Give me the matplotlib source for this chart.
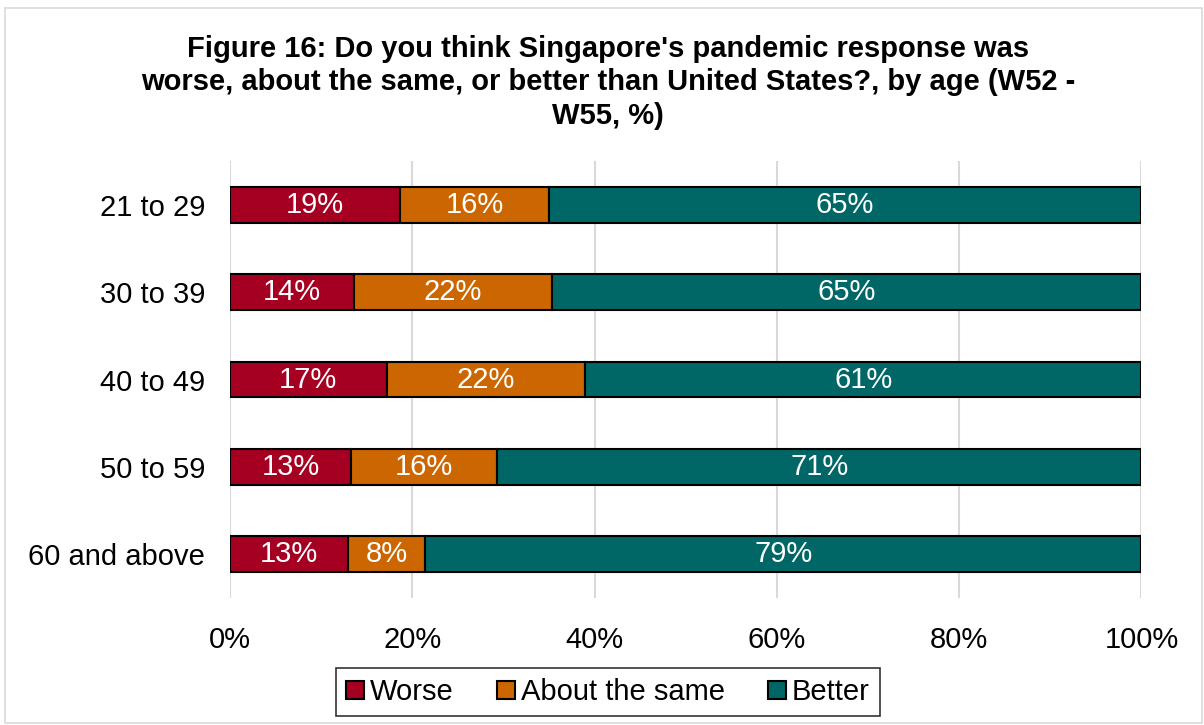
import numpy as np
import matplotlib.pyplot as plt
from matplotlib.patches import Rectangle

plt.rcParams['font.family'] = ['Liberation Sans', 'DejaVu Sans']

ages = ["21 to 29", "30 to 39", "40 to 49", "50 to 59", "60 and above"]
worse = [18.7, 13.6, 17.2, 13.3, 13.0]
same = [16.3, 21.7, 21.8, 16.0, 8.4]
better = [65.0, 64.7, 61.0, 70.7, 78.6]

series = [("Worse", worse, "#A50021"),
          ("About the same", same, "#CC6600"),
          ("Better", better, "#006666")]

fig = plt.figure(figsize=(12.04, 7.25), dpi=100)
fig.patches.append(Rectangle((0.004, 0.003), 0.994, 0.986, transform=fig.transFigure,
                             fill=False, edgecolor="#D9D9D9", lw=1.2))
ax = fig.add_axes([0.191, 0.175, 0.757, 0.603])

y = np.arange(len(ages))
left = np.zeros(len(ages))
for name, vals, color in series:
    vals = np.array(vals)
    ax.barh(y, vals, left=left, height=0.41, color=color, edgecolor="black",
            linewidth=1.5, label=name, zorder=3)
    for yi, l, v in zip(y, left, vals):
        ax.text(l + v / 2, yi, "{:.0f}%".format(v), ha="center", va="center",
                color="white", fontsize=21, zorder=4)
    left += vals

ax.set_xlim(0, 100)
ax.set_ylim(len(ages) - 0.5, -0.5)
ax.set_yticks(y)
ax.set_yticklabels(ages, fontsize=21)
ax.set_xticks(np.arange(0, 101, 20))
ax.set_xticklabels(["{}%".format(t) for t in range(0, 101, 20)], fontsize=21)
ax.tick_params(length=0, pad=18)
ax.tick_params(axis="x", pad=20)
ax.grid(axis="x", color="#D9D9D9", lw=1.5, zorder=0)
for s in ax.spines.values():
    s.set_visible(False)

fig.suptitle("Figure 16: Do you think Singapore's pandemic response was\n"
             "worse, about the same, or better than United States?, by age (W52 -\n"
             "W55, %)", fontsize=21, fontweight="bold", y=0.952, x=0.505, linespacing=1.25)

leg = fig.legend(loc="lower center", bbox_to_anchor=(0.505, 0.012), ncol=3, fontsize=21,
                 frameon=True, fancybox=False, edgecolor="black", handlelength=0.6,
                 handleheight=0.6, handletextpad=0.2, columnspacing=1.5, borderpad=0.35,
                 borderaxespad=0)
leg.get_frame().set_linewidth(1.2)

fig.savefig("out.png", dpi=100)
